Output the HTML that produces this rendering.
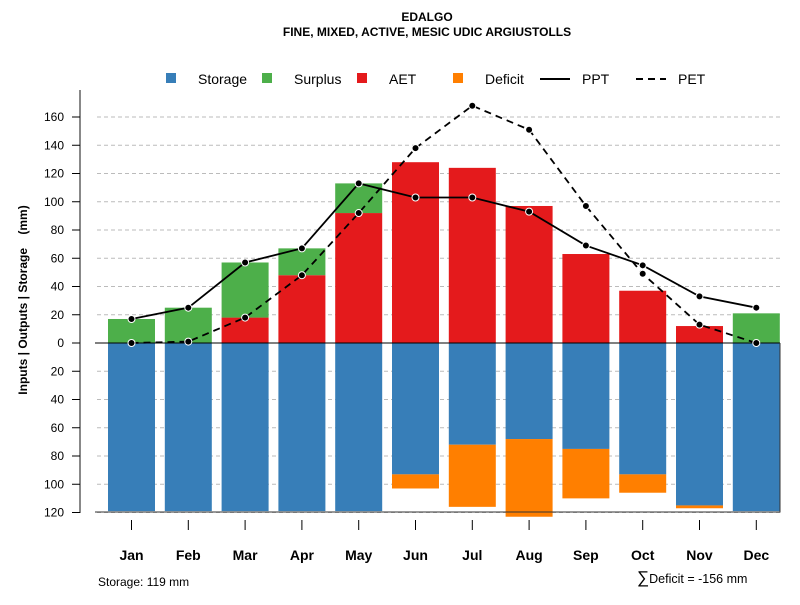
<!DOCTYPE html>
<html><head><meta charset="utf-8"><style>
body{margin:0;background:#fff;font-family:"Liberation Sans",sans-serif}
</style></head><body>
<svg id="c" width="800" height="600" xmlns="http://www.w3.org/2000/svg" font-family="Liberation Sans, sans-serif">
<text x="427" y="21" text-anchor="middle" font-size="12" font-weight="bold">EDALGO</text>
<text x="427" y="36" text-anchor="middle" font-size="12" font-weight="bold">FINE, MIXED, ACTIVE, MESIC UDIC ARGIUSTOLLS</text>
<g font-size="14">
<rect x="166" y="73" width="10" height="10" fill="#377EB8"/><text x="198" y="84">Storage</text>
<rect x="262" y="73" width="10" height="10" fill="#4DAF4A"/><text x="294" y="84">Surplus</text>
<rect x="357" y="73" width="10" height="10" fill="#E41A1C"/><text x="389" y="84">AET</text>
<rect x="453" y="73" width="10" height="10" fill="#FF7F00"/><text x="485" y="84">Deficit</text>
<line x1="540" y1="79" x2="570" y2="79" stroke="#000" stroke-width="2"/><text x="582" y="84">PPT</text>
<line x1="636" y1="79" x2="666" y2="79" stroke="#000" stroke-width="2" stroke-dasharray="7,5"/><text x="678" y="84">PET</text>
</g>
<text transform="translate(27,300) rotate(-90)" text-anchor="middle" font-size="12" font-weight="bold" style="white-space:pre">Inputs | Outputs | Storage    (mm)</text>
<text x="98" y="586" font-size="12">Storage: 119 mm</text>
<text x="637" y="583" font-size="12.5"><tspan font-size="17">∑</tspan>Deficit = -156 mm</text>
<g id="g"></g>
</svg>
<script>
const months=["Jan","Feb","Mar","Apr","May","Jun","Jul","Aug","Sep","Oct","Nov","Dec"];
const aet=[0,0,18,48,92,128,124,97,63,37,12,0];
const surplus=[17,25,39,19,21,0,0,0,0,0,0,21];
const storage=[119,119,119,119,119,93,72,68,75,93,115,119];
const deficit=[0,0,0,0,0,10,44,55,35,13,2,0];
const ppt=[17,25,57,67,113,103,103,93,69,55,33,25];
const pet=[0,1,18,48,92,138,168,151,97,49,13,0];
const yTicks=[160,140,120,100,80,60,40,20,0,20,40,60,80,100,120];
const NS="http://www.w3.org/2000/svg";
const g=document.getElementById('g');
const y=v=>343-v*1.4125;
const x=i=>131.5+i*56.8;
const bw=47;
function mk(t,a){const e=document.createElementNS(NS,t);for(const k in a)e.setAttribute(k,a[k]);g.appendChild(e);return e;}
let e=mk('line',{x1:80,y1:90,x2:80,y2:513,stroke:'#888','stroke-width':2});


yTicks.forEach((t,k)=>{const v=k<8?t:(k===8?0:-t);const yy=y(v);
 if(v!==0){const l=mk('line',{x1:97,y1:yy,x2:780,y2:yy,stroke:'#bbb','stroke-dasharray':'4,3'});
 
 }
 const tk=mk('line',{x1:72,y1:yy,x2:80,y2:yy,stroke:'#000'});
 
 
 const tx=mk('text',{x:64,y:yy+4,'text-anchor':'end','font-size':12});tx.textContent=t;
 
 
});
months.forEach((m,i)=>{const cx=x(i),x0=cx-bw/2;
 const r=(a,b,c,n)=>{const el=mk('rect',{x:x0,y:Math.min(y(a),y(b)),width:bw,height:Math.abs(y(a)-y(b)),fill:c});
  
  };
 r(0,aet[i],'#E41A1C','bar-aet-'+m.toLowerCase());
 r(aet[i],aet[i]+surplus[i],'#4DAF4A','bar-surplus-'+m.toLowerCase());
 r(0,-storage[i],'#377EB8','bar-storage-'+m.toLowerCase());
 r(-storage[i],-storage[i]-deficit[i],'#FF7F00','bar-deficit-'+m.toLowerCase());
 const tk=mk('line',{x1:cx,y1:520,x2:cx,y2:530,stroke:'#000'});
 
 
 const tx=mk('text',{x:cx,y:560,'text-anchor':'middle','font-size':14,'font-weight':'bold'});tx.textContent=m;
 
 
});
e=mk('line',{x1:95,y1:343,x2:780,y2:343,stroke:'#000'});


e=mk('polyline',{points:'95,512 780,512 780,343',fill:'none',stroke:'#333'});


const line=(d,n,dash)=>{const p=mk('polyline',{points:d.map((v,i)=>x(i)+','+y(v)).join(' '),fill:'none',stroke:'#000','stroke-width':1.8});
 if(dash)p.setAttribute('stroke-dasharray','7,5');
 
 
 d.forEach((v,i)=>{const c=mk('circle',{cx:x(i),cy:y(v),r:3.5,fill:'#000',stroke:'#fff','stroke-width':1});
  
  });};
line(pet,'pet',true);
line(ppt,'ppt',false);
</script>
</body></html>
